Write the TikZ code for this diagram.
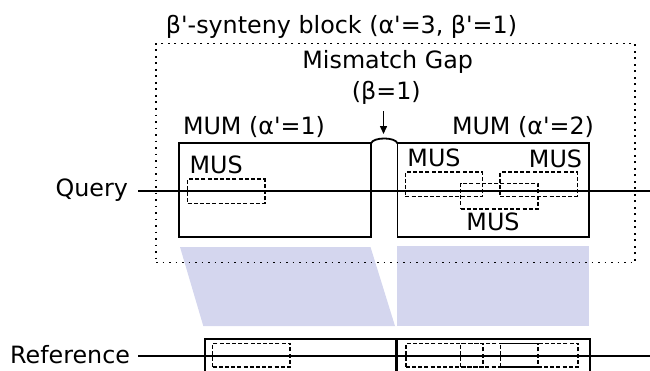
\documentclass[tikz,border=0pt]{standalone}
\usepackage{fontspec}
\newfontfamily\dvs{DejaVu Sans}
\usetikzlibrary{arrows.meta,calc}
\definecolor{shadecol}{RGB}{212,214,238}
\begin{document}
\begin{tikzpicture}[x=1pt,y=-1pt,
  every node/.style={inner sep=0pt, outer sep=0pt},
  lbl/.style={font=\dvs\fontsize{23.8}{28}\selectfont, anchor=base},
  mum/.style={draw, line width=1.8pt, minimum height=93.7pt},
  mus/.style={draw, dash pattern=on 4pt off 2.2pt, line width=1.6pt, minimum width=77.3pt, minimum height=24.5pt},
  blockbox/.style={draw, line width=1.7pt, dash pattern=on 1.7pt off 4.8pt, minimum width=479pt, minimum height=219pt},
  seq/.style={line width=1.8pt},
  conn/.style={line width=1.5pt, -{Triangle[length=8pt,width=7pt]}}
]
\useasboundingbox (0,0) rectangle (650,370);
\clip (0,0) rectangle (650,370);

% shaded alignment regions
\fill[shadecol] (180,247) -- (370.5,247) -- (395,326) -- (203.3,326) -- cycle;
\fill[shadecol] (397,246) rectangle (589,326);

% synteny block
\node[blockbox] (block) at (395.5,153) {};
\node[lbl] (title) at (341.5,33) {β'-synteny block (α'=3, β'=1)};

% query MUMs
\node[mum, minimum width=191.7pt] (mumL) at (275.2,190.2) {};
\node[mum, minimum width=191.2pt] (mumR) at (493.1,190.2) {};
\draw[line width=1.8pt] (mumL.north east) .. controls ($(mumL.north east)+(2,-6.5)$) and ($(mumR.north west)+(-2,-6.5)$) .. (mumR.north west);

% query MUSs
\node[mus] (musL) at (226.2,191.3) {};
\node[mus] (musA) at (444,184.3) {};
\node[mus, minimum height=25.7pt] (musB) at (499.2,196.2) {};
\node[mus] (musC) at (538.7,184.3) {};

% reference MUMs
\node[mum, minimum width=191pt, anchor=north west] (refL) at (205,339) {};
\node[mum, minimum width=192.5pt, anchor=north west] (refR) at (397.5,339) {};
\node[mus, minimum height=23.7pt] (rmusL) at (251.3,355.2) {};
\node[mus, minimum height=23.7pt] (rmusA) at (444.5,355.2) {};
\node[mus, minimum height=23.7pt] (rmusB) at (499.3,355.2) {};
\node[mus, minimum height=23.7pt] (rmusC) at (539.3,355.2) {};

% sequence lines
\node[lbl, anchor=base east] (qlbl) at (128,196.5) {Query};
\coordinate (qs) at (138,191);
\coordinate (qe) at (650,191);
\draw[seq] (qs) -- (qe);
\node[lbl, anchor=base east] (rlbl) at (130,363.5) {Reference};
\coordinate (rs) at (138,356);
\coordinate (re) at (650,356);
\draw[seq] (rs) -- (re);

% labels
\node[lbl] (mmgap) at (387.7,68.5) {Mismatch Gap};
\node[lbl] (beta) at (386.3,99) {(β=1)};
\coordinate (gtop) at (383.5,111);
\coordinate (gtip) at (383.5,134);
\draw[conn] (gtop) -- (gtip);

\node[lbl] (mumLlbl) at (254,134) {MUM (α'=1)};
\node[lbl] (mumRlbl) at (523,134) {MUM (α'=2)};
\node[lbl] (musLlbl) at (216.2,173) {MUS};
\node[lbl] (musAlbl) at (434,166) {MUS};
\node[lbl] (musClbl) at (555.5,167) {MUS};
\node[lbl] (musBlbl) at (493,230) {MUS};
\end{tikzpicture}
\end{document}
